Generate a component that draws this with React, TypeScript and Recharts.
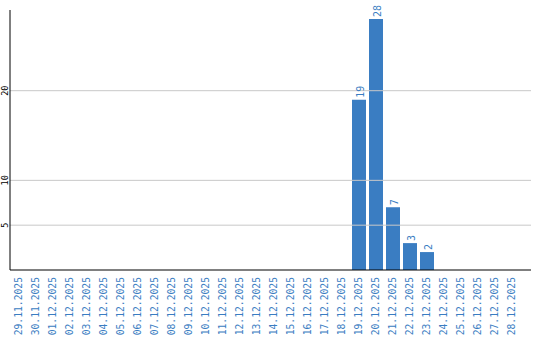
import React from "react";
import { BarChart, Bar, XAxis, YAxis, ReferenceLine, LabelList } from "recharts";

const dates = [
  "29.11.2025", "30.11.2025", "01.12.2025", "02.12.2025", "03.12.2025",
  "04.12.2025", "05.12.2025", "06.12.2025", "07.12.2025", "08.12.2025",
  "09.12.2025", "10.12.2025", "11.12.2025", "12.12.2025", "13.12.2025",
  "14.12.2025", "15.12.2025", "16.12.2025", "17.12.2025", "18.12.2025",
  "19.12.2025", "20.12.2025", "21.12.2025", "22.12.2025", "23.12.2025",
  "24.12.2025", "25.12.2025", "26.12.2025", "27.12.2025", "28.12.2025",
];
const counts = [
  0, 0, 0, 0, 0, 0, 0, 0, 0, 0,
  0, 0, 0, 0, 0, 0, 0, 0, 0, 0,
  19, 28, 7, 3, 2, 0, 0, 0, 0, 0,
];
const yTicks = [5, 10, 20];

const data = dates.map((d, i) => ({ date: d, count: counts[i] }));

const BLUE = "#3a7dc2";
const FONT = "'DejaVu Sans Mono', monospace";

const XTick = (props: any) => {
  const { x, payload } = props;
  return (
    <g transform={`translate(${x + 3.5}, 277) rotate(-90)`}>
      <text x={0} y={0} textAnchor="end" fill={BLUE} fontSize={9.7} fontFamily={FONT}>
        {payload.value}
      </text>
    </g>
  );
};

const YTick = (props: any) => {
  const { y, payload } = props;
  return (
    <g transform={`translate(8, ${y}) rotate(-90)`}>
      <text x={0} y={0} textAnchor="middle" fill="#000" fontSize={8.5} fontFamily={FONT}>
        {payload.value}
      </text>
    </g>
  );
};

const ValueLabel = (props: any) => {
  const { x, y, width, value } = props;
  if (!value) return null;
  const cx = x + width / 2 + 5;
  return (
    <g transform={`translate(${cx}, ${y - 2}) rotate(-90)`}>
      <text x={0} y={0} textAnchor="start" fill={BLUE} fontSize={10} fontFamily={FONT}>
        {value}
      </text>
    </g>
  );
};

export default function App() {
  return (
    <div style={{ position: "absolute", left: 0, top: 0, background: "#fff" }}>
      <BarChart
        width={540}
        height={340}
        data={data}
        margin={{ top: 10, right: 9, left: 0, bottom: 0 }}
      >
        {/* horizontal gridlines only at the labelled ticks */}
        {yTicks.map((v) => (
          <ReferenceLine key={v} y={v} stroke="#c8c8c8" />
        ))}
        <XAxis
          dataKey="date"
          interval={0}
          height={70}
          tickLine={false}
          axisLine={{ stroke: "#000" }}
          padding={{ left: 0, right: 11 }}
          tick={<XTick />}
        />
        <YAxis
          width={10}
          domain={[0, 29]}
          ticks={yTicks}
          tickLine={false}
          axisLine={{ stroke: "#000" }}
          tick={<YTick />}
        />
        <Bar dataKey="count" fill={BLUE} barSize={14} isAnimationActive={false}>
          <LabelList dataKey="count" content={<ValueLabel />} />
        </Bar>
      </BarChart>
    </div>
  );
}
